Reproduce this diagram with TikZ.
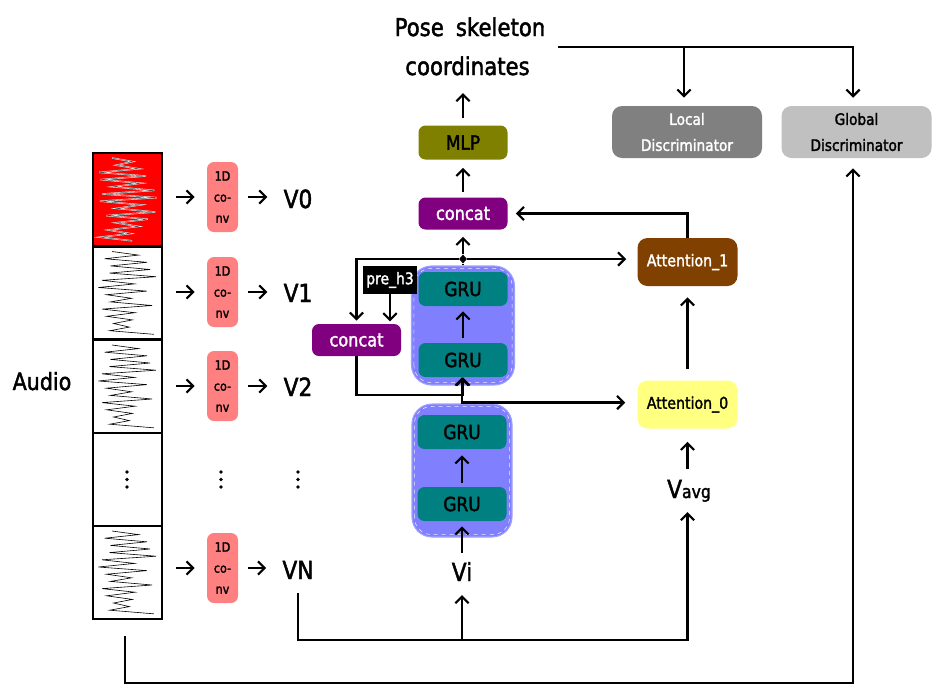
\documentclass[tikz,border=0pt]{standalone}
\usepackage{fontspec}
\setmainfont{DejaVu Sans}[FakeStretch=0.87,FakeBold=1.8]
\usetikzlibrary{arrows.meta,calc,shapes.geometric}
\newdimen\upx \upx=0.75pt
\definecolor{convc}{HTML}{FF8080}
\definecolor{purplec}{HTML}{800080}
\definecolor{olivec}{HTML}{808000}
\definecolor{tealc}{HTML}{008080}
\definecolor{grpc}{HTML}{8080FF}
\definecolor{grpline}{HTML}{A0A0FF}
\definecolor{brownc}{HTML}{804000}
\definecolor{yellowc}{HTML}{FFFF80}
\definecolor{grayc}{HTML}{808080}
\definecolor{lgrayc}{HTML}{C0C0C0}
\newcommand\audiowave[2]{%
  \draw[#2] (112,#1+5) \foreach \k in {1,...,23}{ -- ({ifthenelse(isodd(\k),128+30*rnd,97+20*rnd)},{#1+5+\k*3.6}) };}
\begin{document}
\begin{tikzpicture}[x=0.75pt,y=-0.75pt,
  ln/.style={line width=1.6pt},
  arr/.style={line width=1.6pt,-{Straight Barb[length=5pt,width=10pt]}},
  cell/.style={draw, line width=1.6pt, minimum width=69\upx, minimum height=93\upx, inner sep=0},
  box/.style={inner sep=0, align=center},
  conv/.style={box, fill=convc, rounded corners=7\upx, minimum width=31\upx, minimum height=70\upx, font=\fontsize{9.6}{15.75}\selectfont},
  vlab/.style={inner sep=0, anchor=base, font=\fontsize{18.75}{20}\selectfont},
  grp/.style={rounded corners=20\upx, fill=grpc, draw=grpline, line width=0.8pt, inner sep=0},
  gru/.style={box, fill=tealc, rounded corners=7\upx, minimum width=89\upx, minimum height=34\upx, font=\fontsize{14.6}{15}\selectfont},
  cc/.style={box, fill=purplec, text=white, rounded corners=7\upx, minimum width=89\upx, minimum height=32\upx, font=\fontsize{13.9}{14}\selectfont},
  att/.style={box, rounded corners=10\upx, minimum width=100\upx, minimum height=48\upx, font=\fontsize{12.2}{13}\selectfont},
  disc/.style={box, rounded corners=10\upx, minimum width=150\upx, minimum height=52\upx, font=\fontsize{11.8}{19.5}\selectfont},
  wave/.style={line width=0.45pt}
]
\path[fill=white] (0,0) rectangle (939,694);
\useasboundingbox (0,0) rectangle (939,694);

% audio column
\node[cell, fill=red] (c0) at (127.5,199.5) {};
\node[cell] (c1) at (127.5,293) {};
\node[cell] (c2) at (127.5,386.5) {};
\node[cell] (c3) at (127.5,479.5) {};
\node[cell] (c4) at (127.5,572.5) {};
\pgfmathsetseed{7}\audiowave{153}{white, line width=1pt}
\pgfmathsetseed{7}\audiowave{153}{black!70, line width=0.35pt}
\pgfmathsetseed{11}\audiowave{246.5}{wave}
\pgfmathsetseed{11}\audiowave{340}{wave}
\pgfmathsetseed{11}\audiowave{526}{wave}
\node[inner sep=0, anchor=base, font=\fontsize{17.8}{18}\selectfont] (audio) at (42,390) {Audio};

% dots
\foreach \xx in {127,221,298}{
  \fill (\xx,472) circle (1.8);
  \fill (\xx,479.5) circle (1.8);
  \fill (\xx,487) circle (1.8);
}

% conv boxes
\node[conv] (k0) at (222.5,197) {1D\\co-\\nv};
\node[conv] (k1) at (222.5,292) {1D\\co-\\nv};
\node[conv] (k2) at (222.5,386) {1D\\co-\\nv};
\node[conv] (k3) at (222.5,568) {1D\\co-\\nv};

% V labels
\node[vlab] (v0) at (298,208) {V0};
\node[vlab] (v1) at (298,302) {V1};
\node[vlab] (v2) at (298,396) {V2};
\node[vlab] (vn) at (298,579) {VN};
\node[vlab] (vi) at (462,581) {Vi};
\node[vlab] (vavg) at (689,498) {V{\fontsize{13.5}{14}\selectfont avg}};

% GRU groups
\node[grp, minimum width=100\upx, minimum height=133\upx] (ga) at (462,470.5) {};
\node[grp, minimum width=103\upx, minimum height=119\upx] (gb) at (463,325.5) {};
\draw[white!85!grpc, dashed, line width=0.4pt, rounded corners=17\upx] ($(ga.south west)+(3,-3)$) rectangle ($(ga.north east)+(-3,3)$);
\draw[white!85!grpc, dashed, line width=0.4pt, rounded corners=17\upx] ($(gb.south west)+(3,-3)$) rectangle ($(gb.north east)+(-3,3)$);
\node[gru] (g1) at (462,504) {GRU};
\node[gru] (g2) at (462,432) {GRU};
\node[gru] (g3) at (463,360) {GRU};
\node[gru] (g4) at (463,289) {GRU};

\node[fill=black, text=white, inner sep=0, minimum width=54\upx, minimum height=28\upx, font=\fontsize{12}{12}\selectfont] (pre) at (390,280) {pre\_h3};

% concat, MLP
\node[cc] (cat1) at (463,213.5) {concat};
\node[cc] (cat2) at (356.5,340) {concat};
\node[gru, fill=olivec] (mlp) at (463,142.5) {MLP};

% pose text
\node[inner sep=0, anchor=base, font=\fontsize{18.3}{20}\selectfont] (pose1) at (470,36) {Pose\hspace{4pt} skeleton};
\node[inner sep=0, anchor=base, font=\fontsize{18.3}{20}\selectfont] (pose2) at (467.5,75) {coordinates};

% attention
\node[att, fill=brownc, text=white] (att1) at (687.5,262) {Attention\_1};
\node[att, fill=yellowc] (att0) at (687.5,404.5) {Attention\_0};

% discriminators
\node[disc, fill=grayc, text=white] (dl) at (687,132) {Local\\Discriminator};
\node[disc, fill=lgrayc] (dg) at (856.5,132) {Global\\Discriminator};

\node[diamond, fill=black, inner sep=0, minimum width=8\upx, minimum height=9\upx] (sp) at (463,259) {};

% ---- connectors
\draw[arr] ($(c0.east |- k0.west)+(13,0)$) -- ($(k0.west)+(-12,0)$);
\draw[arr] ($(c1.east |- k1.west)+(13,0)$) -- ($(k1.west)+(-12,0)$);
\draw[arr] ($(c2.east |- k2.west)+(13,0)$) -- ($(k2.west)+(-12,0)$);
\draw[arr] ($(c4.east |- k3.west)+(13,0)$) -- ($(k3.west)+(-12,0)$);
\draw[arr] ($(k0.east)+(10,0)$) -- ($(v0.west |- k0.east)+(-16,0)$);
\draw[arr] ($(k1.east)+(10,0)$) -- ($(v1.west |- k1.east)+(-16,0)$);
\draw[arr] ($(k2.east)+(10,0)$) -- ($(v2.west |- k2.east)+(-16,0)$);
\draw[arr] ($(k3.east)+(10,0)$) -- ($(vn.west |- k3.east)+(-16,0)$);

% bus from VN
\coordinate (busy) at (0,640);
\coordinate (vnb) at ($(vn.south)+(0,14)$);
\coordinate (b1) at (vn.south |- busy);
\coordinate (vavgin) at ($(vavg.base)+(-1.5,14)$);
\draw[arr] (vnb) -- (b1) -| (vavgin);
\draw[arr] (vi.base |- busy) -- ($(vi.base)+(0,14)$);
\draw[arr] ($(vi.base)+(0,-28)$) -- ($(g1.south)+(0,5)$);
\draw[arr] ($(g1.north)+(0,-4)$) -- ($(g2.south)+(0,6)$);
\draw[arr] ($(g3.north)+(0,-5)$) -- ($(g4.south)+(0,5)$);
\draw[arr] (ga.north) -- (ga.north |- g3.south);
\coordinate (att0in) at ($(att0.west)+(-12,-2)$);
\draw[arr] (ga.north) |- (att0in);
\draw[arr] (cat2.south) -- ++(0,39) -| (g3.south);

\draw[ln] (gb.north) -- (sp);
\draw[arr] (sp) -- ($(cat1.south)+(0,7)$);
\draw[arr] (sp) -| ($(cat2.north)+(0,-3)$);
\coordinate (a1in) at ($(att1.west)+(-11,-3)$);
\draw[arr] (sp) -- (sp -| a1in);
\draw[arr] (pre.south) -- ($(pre.south)+(0,27)$);

\draw[arr] (att1.north) -- (att1.north |- cat1.east) -- ($(cat1.east)+(8,0)$);
\draw[arr] ($(att0.north)+(0,-11)$) -- ($(att1.south)+(0,11)$);
\draw[arr] ($(vavg.base)+(-1.5,-29)$) -- ($(att0.south)+(0,13)$);

\draw[arr] ($(cat1.north)+(0,-5)$) -- ($(mlp.south)+(0,8)$);
\coordinate (pin) at ($(pose2.base)+(0,18)$);
\draw[arr] ($(mlp.north)+(0,-7)$) -- (mlp.north |- pin);

\coordinate (ts) at (558,47);
\coordinate (dgin) at ($(dg.north)+(-3.5,-8)$);
\coordinate (dlin) at ($(dl.north)+(-3,-8)$);
\draw[arr] (ts) -| (dgin);
\draw[arr] (ts -| dlin) -- (dlin);

\coordinate (ab) at ($(c4.south)+(-2.5,16)$);
\coordinate (bot) at (0,683);
\draw[arr] (ab) -- (ab |- bot) -| ($(dg.south)+(-3.5,10)$);
\end{tikzpicture}
\end{document}
